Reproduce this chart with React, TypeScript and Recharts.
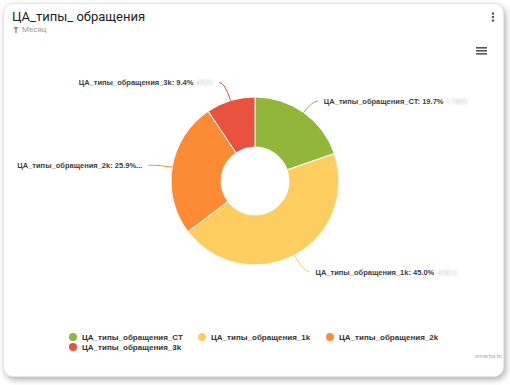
import React from 'react';
import { PieChart, Pie, Cell } from 'recharts';

const categories = ['ЦА_типы_обращения_CT', 'ЦА_типы_обращения_1k', 'ЦА_типы_обращения_2k', 'ЦА_типы_обращения_3k'];
const shares = [19.7, 45.0, 25.9, 9.4];
const hiddenValues = ['17865', '40811', '23488', '8525'];
const colors = ['#91b63a', '#fecd60', '#fd8b35', '#e8523f'];

const data = categories.map((name, i) => ({ name, value: shares[i], hidden: hiddenValues[i] }));

const RAD = Math.PI / 180;
// how far each label line reaches out of the ring, and its horizontal tail
const labelReach = [14, 19, 12, 19];
const labelTail = [6, 6, 12, 6];

const renderLabel = (props: any) => {
  const { cx, cy, midAngle, outerRadius, index, payload } = props;
  const cos = Math.cos(-midAngle * RAD);
  const sin = Math.sin(-midAngle * RAD);
  const sx = cx + outerRadius * cos;
  const sy = cy + outerRadius * sin;
  const mx = cx + (outerRadius + labelReach[index]) * cos;
  const my = cy + (outerRadius + labelReach[index]) * sin;
  const right = cos >= 0;
  const ex = mx + (right ? labelTail[index] : -labelTail[index]);
  const ey = my;
  const pct = payload.value.toFixed(1) + '%';
  const text = index === 2 ? `${payload.name}: ${pct}...` : `${payload.name}: ${pct}`;
  return (
    <g>
      <path d={`M${sx},${sy} Q${mx},${my} ${ex},${ey}`} stroke={colors[index]} fill="none" strokeWidth={1} />
      <text
        x={ex + (right ? 6 : -6)}
        y={ey + 3}
        textAnchor={right ? 'start' : 'end'}
        fontSize={7.5}
        fontWeight={700}
        fill="#3d3d3d"
        fontFamily="Liberation Sans, Arial, sans-serif"
      >
        {text}
        {index !== 2 && (
          <tspan fill="#c9c9c9" fontWeight={400} filter="url(#blurv)" dx={3}>
            {payload.hidden}
          </tspan>
        )}
      </text>
    </g>
  );
};

const App = () => {
  return (
    <div style={{ position: 'relative', width: 510, height: 385, background: '#fff', fontFamily: 'Roboto, sans-serif' }}>
      <style>{'body{margin:0}'}</style>
      <div
        style={{
          position: 'absolute',
          left: 3,
          top: 3,
          width: 499,
          height: 372,
          borderRadius: 10,
          border: '1px solid #e6e6ee',
          boxShadow: '2px 3px 6px rgba(0,0,0,0.3)',
          background: '#fff',
        }}
      />
      <div style={{ position: 'absolute', left: 12, top: 9, fontSize: 13, color: '#222' }}>ЦА_типы_ обращения</div>
      <div style={{ position: 'absolute', left: 13, top: 25, fontSize: 8, color: '#9a9a9a', display: 'flex', alignItems: 'center' }}>
        <svg width={6} height={6} style={{ marginRight: 3 }}>
          <path d="M0,0 L6,0 L3.8,2.6 L3.8,6 L2.2,6 L2.2,2.6 Z" fill="#9a9a9a" />
        </svg>
        Месяц
      </div>
      <svg style={{ position: 'absolute', left: 490, top: 12 }} width={6} height={10}>
        <circle cx={3} cy={1.5} r={1.2} fill="#555" />
        <circle cx={3} cy={5} r={1.2} fill="#555" />
        <circle cx={3} cy={8.5} r={1.2} fill="#555" />
      </svg>
      <svg style={{ position: 'absolute', left: 476, top: 47 }} width={11} height={8}>
        <rect x={0} y={0} width={11} height={1.6} fill="#555" />
        <rect x={0} y={3} width={11} height={1.6} fill="#555" />
        <rect x={0} y={6} width={11} height={1.6} fill="#555" />
      </svg>
      <div style={{ position: 'absolute', left: 0, top: 0 }}>
        <PieChart width={510} height={385} margin={{ top: 0, right: 0, bottom: 0, left: 0 }}>
          <defs>
            <filter id="blurv">
              <feGaussianBlur stdDeviation={1.2} />
            </filter>
          </defs>
          <Pie
            data={data}
            dataKey="value"
            nameKey="name"
            cx={255}
            cy={181}
            innerRadius={34}
            outerRadius={84}
            startAngle={90}
            endAngle={-270}
            stroke="#fff"
            strokeWidth={1}
            label={renderLabel}
            labelLine={false}
            isAnimationActive={false}
          >
            {data.map((d, i) => (
              <Cell key={d.name} fill={colors[i]} />
            ))}
          </Pie>
        </PieChart>
      </div>
      <div
        style={{
          position: 'absolute',
          left: 69,
          top: 332,
          width: 400,
          display: 'flex',
          flexWrap: 'wrap',
          fontSize: 8,
          fontWeight: 700,
          color: '#333',
          fontFamily: 'Liberation Sans, Arial, sans-serif',
          rowGap: 0,
        }}
      >
        {categories.map((c, i) => (
          <div key={c} style={{ display: 'flex', alignItems: 'center', width: i === 0 ? 129 : i === 1 ? 128 : 139, height: 10 }}>
            <span style={{ width: 8, height: 8, borderRadius: 4, background: colors[i], marginRight: 5 }} />
            {c}
          </div>
        ))}
      </div>
      <div style={{ position: 'absolute', left: 475, top: 352, fontSize: 6, color: '#aaa' }}>smartis.bi</div>
    </div>
  );
};

export default App;
